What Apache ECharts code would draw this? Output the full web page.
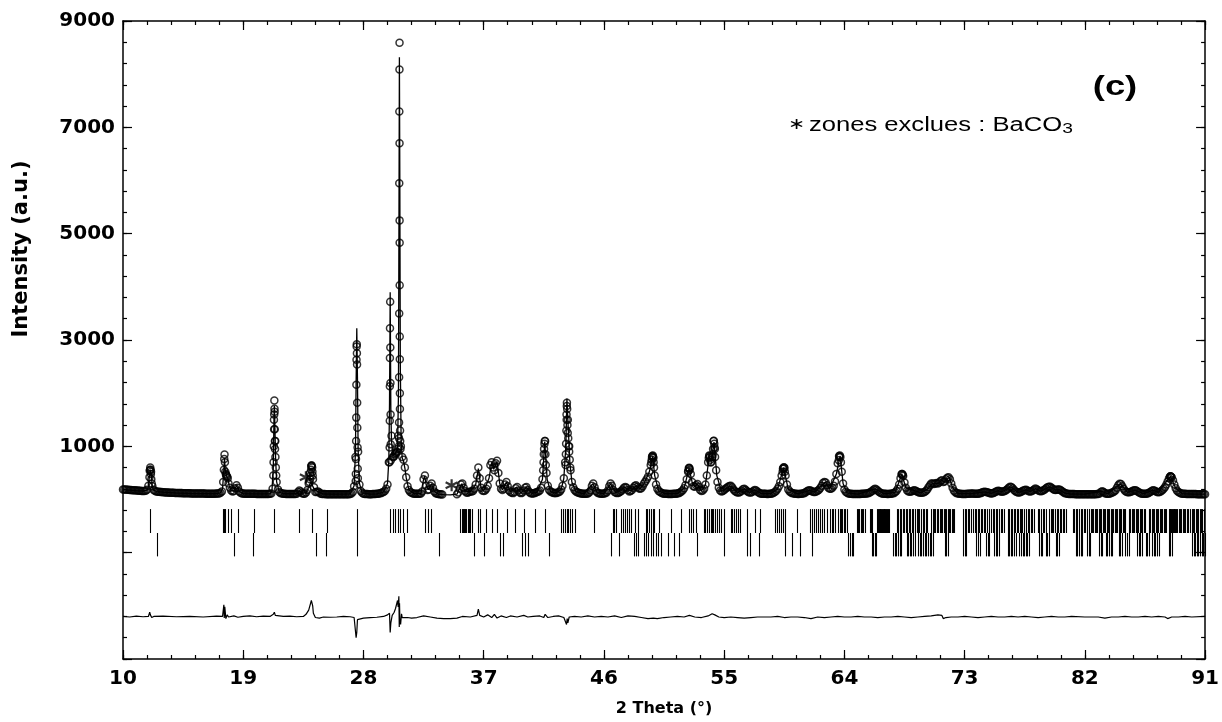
<!DOCTYPE html>
<html>
<head>
<meta charset="utf-8">
<title>Affinement Rietveld (c)</title>
<script src="https://cdn.jsdelivr.net/npm/echarts@6/dist/echarts.min.js"></script>
<style>
  html, body { margin: 0; padding: 0; background: #fff; }
  #chart { width: 1222px; height: 722px; }
</style>
</head>
<body>
<div id="chart"></div>
<script>
// Observed counts on a regular 2θ grid (10.0° to 91.0°, step 0.1°); null = excluded zone
const THETA_START = 10;
const THETA_STEP = 0.1;
const observedCounts = [
  190,188,186,184,182,180,178,176,174,172,
  170,168,166,164,162,160,158,165,185,260,
  540,520,250,180,160,152,148,145,142,140,
  138,136,134,132,130,128,127,126,125,124,
  123,122,121,120,120,119,118,118,117,116,
  116,115,115,114,114,113,113,112,112,112,
  111,111,110,110,110,110,109,109,109,110,
  112,113,115,125,150,330,845,480,430,300,
  220,170,150,160,210,270,220,150,125,115,
  112,110,109,108,108,107,107,106,106,106,
  105,105,105,104,104,104,104,103,103,103,
  108,115,200,1500,1100,330,190,140,120,112,
  108,106,105,104,104,103,103,103,102,102,
  110,140,170,150,120,110,110,130,180,300,
  500,640,450,230,140,140,150,130,110,105,
  103,102,101,100,100,100,100,100,100,100,
  100,100,100,100,100,100,100,100,100,101,
  105,115,140,250,800,2920,900,280,160,125,
  110,105,103,102,101,101,101,102,103,105,
  107,110,115,120,130,140,160,200,280,700,
  3720,1200,800,820,870,900,1200,8590,1000,800,
  750,600,420,250,180,140,125,115,110,108,
  108,108,110,115,150,380,450,260,180,190,
  260,300,220,150,120,108,103,100,98,96,
  null,null,null,null,null,null,null,null,null,null,
  100,130,200,280,300,220,160,130,125,140,
  150,150,160,200,280,450,600,400,220,170,
  160,170,200,260,400,650,700,600,550,680,
  730,500,300,200,180,200,280,330,250,170,
  140,125,120,140,210,235,170,130,120,130,
  170,220,235,180,140,120,115,115,120,130,
  140,150,170,220,380,850,1100,500,260,180,
  150,135,125,120,120,125,135,150,190,260,
  400,700,1600,1500,1000,550,330,230,180,150,
  135,125,118,113,110,108,108,110,115,130,
  170,260,300,230,160,130,118,112,110,110,
  112,118,130,170,250,300,260,180,140,125,
  120,125,140,160,190,220,235,220,180,150,
  160,180,220,255,266,240,210,200,210,250,
  300,340,380,430,520,650,800,780,450,280,
  200,160,140,125,115,110,108,106,105,105,
  105,105,106,108,110,115,120,130,150,175,
  210,270,380,520,590,480,330,250,240,270,
  290,240,180,160,170,200,280,450,700,820,
  700,800,1100,950,550,330,220,170,150,160,
  180,200,220,240,255,260,230,190,160,140,
  130,130,140,165,195,204,185,160,140,130,
  130,140,165,180,170,145,125,115,110,110,
  108,106,105,105,106,110,115,125,140,165,
  200,250,330,450,580,600,450,280,190,150,
  130,120,112,108,106,105,105,106,108,112,
  120,135,155,170,175,165,150,140,140,150,
  165,185,215,260,310,330,320,270,220,200,
  200,220,260,340,480,680,820,800,520,300,
  190,145,125,115,110,106,104,103,102,102,
  102,103,104,106,108,110,112,115,120,130,
  145,165,190,200,190,165,140,125,115,110,
  108,106,105,105,106,108,112,120,135,160,
  200,280,400,480,440,320,220,170,150,145,
  150,160,172,170,155,140,130,125,125,130,
  140,160,190,230,270,300,300,290,300,310,
  300,320,350,360,330,340,380,410,420,380,
  300,220,165,135,120,112,108,106,105,105,
  105,105,106,108,110,112,112,110,108,107,
  108,112,120,130,140,145,142,135,125,118,
  115,118,125,140,155,165,160,150,145,150,
  160,175,195,220,240,235,210,180,155,140,
  130,130,140,155,170,180,185,170,155,150,
  155,170,190,205,195,175,160,155,160,175,
  190,210,230,240,240,220,200,185,180,185,
  190,190,175,155,135,120,112,108,105,104,
  103,102,102,101,101,100,100,100,100,100,
  100,100,100,100,100,100,100,100,101,102,
  105,115,140,155,140,120,110,108,110,115,
  125,135,150,175,220,270,295,290,250,200,
  165,145,135,135,140,150,165,175,175,160,
  140,125,115,110,108,108,110,115,125,140,
  160,175,170,155,140,135,140,155,175,200,
  235,280,340,400,435,420,360,280,210,165,
  140,125,115,110,108,106,105,104,104,103,
  103,102,102,102,101,101,101,100,100,100,
  100
];

// Additional observed points measured on the flanks of the sharp reflections
const observedPeakPoints = [
  [11.98,420],[12.02,560],[12.04,600],[12.07,560],[12.09,480],[12.12,380],[12.15,300],
  [17.55,560],[17.58,760],[17.63,700],[17.66,520],[17.72,460],[17.76,440],[17.84,400],
  [21.25,450],[21.27,700],[21.29,1000],[21.31,1323],[21.32,1600],[21.33,1864],[21.34,1709],
  [21.35,1650],[21.36,1323],[21.37,1100],[21.38,950],[21.41,800],[21.44,600],[21.47,450],
  [23.95,330],[24.0,380],[24.05,450],[24.08,560],[24.1,620],[24.13,640],[24.16,600],[24.18,520],[24.22,380],
  [27.42,350],[27.43,480],[27.44,760],[27.45,1100],[27.46,1540],[27.47,2160],[27.48,2630],[27.49,2880],
  [27.51,2750],[27.52,2540],[27.53,1820],[27.54,1350],[27.56,980],[27.57,580],[27.58,400],
  [29.95,700],[29.96,980],[29.97,1480],[29.975,2130],[29.98,2660],[29.985,3220],
  [30.01,2860],[30.02,2190],[30.03,1600],[30.04,1040],[30.05,740],
  [30.25,800],[30.35,850],[30.45,880],[30.55,950],
  [30.65,1000],[30.66,1150],[30.665,1450],[30.67,2300],[30.675,3500],[30.68,5950],[30.685,7300],
  [30.695,8090],[30.7,6700],[30.705,5250],[30.708,4830],[30.71,4030],[30.715,3065],[30.72,2640],
  [30.725,2000],[30.73,1700],[30.74,1300],[30.75,1100],[30.77,950],
  [41.45,550],[41.48,700],[41.52,950],[41.55,1050],[41.57,1100],[41.62,850],[41.65,650],
  [43.13,650],[43.15,850],[43.17,1050],[43.19,1300],[43.21,1500],[43.22,1760],[43.23,1820],
  [43.25,1700],[43.27,1400],[43.29,1250],[43.33,1150],[43.36,1000],[43.4,900],[43.44,750],[43.48,600],
  [49.55,700],[49.58,750],[49.62,820],[49.66,826],[49.68,800],[49.72,700],[49.75,600],
  [52.32,540],[52.35,590],[52.38,596],[52.42,560],
  [53.85,780],[53.88,826],[53.92,800],[53.96,750],[54.02,700],[54.1,800],[54.14,850],[54.17,950],
  [54.23,1106],[54.26,1050],[54.28,980],[54.32,800],
  [59.38,520],[59.42,590],[59.46,608],[59.5,590],[59.54,520],
  [63.58,740],[63.62,800],[63.66,826],[63.74,700],
  [68.28,470],[68.33,480],[68.38,460],
  [88.38,430],[88.42,435],[88.46,425]
];

// Calculated profile
const calculatedProfile = [
  [10,185],[10.5,178],[11,168],[11.5,160],[11.8,175],[11.9,240],[12.0,500],[12.05,560],[12.1,480],
  [12.2,240],[12.3,175],[12.5,150],[13,137],[14,122],[15,115],[16,110],[17,112],[17.3,125],[17.45,200],
  [17.55,550],[17.6,780],[17.65,560],[17.75,440],[17.85,400],[17.95,260],[18.1,170],[18.3,160],[18.5,265],
  [18.7,150],[19,112],[20,105],[21,108],[21.15,160],[21.25,600],[21.3,1500],[21.33,1760],[21.36,1500],
  [21.42,800],[21.5,330],[21.7,140],[22,108],[23,108],[23.2,165],[23.4,118],[23.7,130],[23.9,230],
  [24.05,330],[24.15,340],[24.3,200],[24.6,145],[25,103],[26,100],[27,105],[27.3,260],[27.4,900],
  [27.45,2200],[27.5,3220],[27.55,2300],[27.6,950],[27.7,300],[27.9,125],[28.5,101],[29,107],[29.5,140],
  [29.8,300],[29.9,750],[29.95,1800],[30.0,3900],[30.05,1700],[30.1,1100],[30.2,820],[30.4,870],
  [30.55,950],[30.62,2000],[30.67,6500],[30.69,8320],[30.72,6200],[30.76,2500],[30.82,1100],[30.9,780],
  [31.0,720],[31.1,590],[31.2,410],[31.4,180],[31.8,110],[32.3,115],[32.5,380],[32.58,440],[32.7,270],
  [32.85,185],[33.1,295],[33.3,150],[33.6,103],[34.0,92],[34.5,86],[35.0,100],[35.35,295],[35.6,160],
  [36.0,150],[36.4,280],[36.6,580],[36.8,220],[37.0,160],[37.4,400],[37.6,700],[37.75,570],[38.0,720],
  [38.2,300],[38.4,180],[38.7,325],[39.0,140],[39.45,230],[39.8,120],[40.2,230],[40.6,115],[41.0,140],
  [41.4,380],[41.57,1090],[41.75,380],[42.0,150],[42.4,120],[42.8,190],[43.0,400],[43.15,1000],
  [43.23,1900],[43.3,1500],[43.45,700],[43.6,330],[43.9,150],[44.5,108],[45.17,295],[45.5,130],
  [46.0,112],[46.5,295],[46.9,125],[47.55,230],[48.0,160],[48.4,260],[48.7,200],[49.0,300],[49.4,520],
  [49.65,810],[49.8,450],[50.1,160],[50.6,108],[51.5,115],[52.0,210],[52.37,585],[52.6,330],[52.8,240],
  [53.0,290],[53.3,160],[53.6,280],[53.88,800],[54.05,720],[54.24,1080],[54.45,450],[54.8,150],
  [55.48,255],[56.0,130],[56.5,200],[56.9,130],[57.3,178],[57.8,110],[58.5,110],[59.0,200],[59.45,600],
  [59.8,190],[60.5,105],[61.4,172],[61.8,140],[62.56,325],[62.9,200],[63.4,480],[63.68,820],[63.9,300],
  [64.2,125],[65,102],[66.3,198],[67,108],[67.8,135],[68.3,475],[68.6,220],[69.2,170],[69.7,125],
  [70.2,190],[70.6,300],[71.0,300],[71.3,360],[71.5,335],[71.85,420],[72.1,220],[72.5,112],[73.5,112],
  [74.5,145],[75.0,115],[75.5,165],[75.8,145],[76.45,238],[77.0,130],[77.6,182],[77.9,150],[78.3,203],
  [78.7,155],[79.35,240],[79.8,180],[80.05,190],[80.5,120],[81,103],[82,100],[83.25,155],[83.7,108],
  [84.65,293],[85.2,135],[85.75,175],[86.4,108],[87.1,175],[87.5,135],[88.4,435],[88.8,210],[89.3,110],
  [90,103],[91,100]
];

// Difference (observed - calculated), plotted shifted below the reflection markers
const DIFF_OFFSET = -2200;
const differenceProfile = [
  [10,0],[10.5,-10],[11,5],[11.5,-5],[11.9,0],[12.0,80],[12.05,30],[12.15,-20],[12.3,0],[13,5],[14,-5],
  [15,0],[16,-10],[17,5],[17.45,0],[17.55,220],[17.58,-30],[17.62,180],[17.7,-40],[17.8,30],[17.9,-10],
  [18.3,10],[18.6,-15],[19,0],[19.5,10],[20,-5],[20.5,5],[21,0],[21.25,40],[21.33,80],[21.4,20],
  [21.5,-10],[22,0],[22.5,5],[23,-5],[23.5,0],[23.7,40],[23.9,120],[24.1,300],[24.2,200],[24.25,60],
  [24.4,-20],[24.7,-30],[25,-10],[25.5,-15],[26,-10],[26.5,0],[27,-5],[27.3,-20],[27.45,-400],
  [27.5,-300],[27.55,-60],[27.6,-40],[28,-30],[28.5,-20],[29,-15],[29.5,0],[29.8,30],[29.95,60],
  [30.0,-300],[30.05,-120],[30.15,20],[30.3,80],[30.4,150],[30.5,120],[30.55,300],[30.6,180],
  [30.65,380],[30.68,-200],[30.7,250],[30.73,-100],[30.78,-150],[30.85,50],[30.9,-20],[31.0,-40],
  [31.3,-20],[31.6,-30],[32,-20],[32.5,10],[32.6,-20],[33,-10],[33.5,-30],[34,-40],[34.5,-40],
  [35,-30],[35.4,0],[36,-10],[36.5,20],[36.6,140],[36.7,20],[37,-10],[37.3,30],[37.6,-20],[37.8,40],
  [38.0,-30],[38.3,10],[38.7,-20],[39,10],[39.5,-10],[40,20],[40.3,-10],[40.7,0],[41.2,10],[41.5,-20],
  [41.6,40],[41.8,-20],[42.2,0],[42.6,10],[43.0,-20],[43.2,-150],[43.25,-40],[43.3,-120],[43.4,-10],
  [43.8,0],[44.3,-10],[44.8,10],[45.3,-10],[45.8,0],[46.3,-10],[46.8,10],[47.3,-20],[47.8,10],
  [48.3,0],[48.8,-20],[49.3,-40],[49.7,-30],[50.0,-40],[50.5,-20],[51,-10],[51.5,0],[52,-10],
  [52.4,20],[52.8,-10],[53.3,-20],[53.8,10],[54.1,50],[54.3,30],[54.6,-10],[55,-20],[55.5,-10],
  [56,-20],[56.5,-30],[57,-20],[57.5,-10],[58,-10],[58.5,-10],[59,0],[59.5,-20],[60,-10],[60.5,-10],
  [61,-20],[61.5,-40],[62,-10],[62.5,-20],[63,-10],[63.5,0],[64,-10],[64.5,-10],[65,0],[65.5,-10],
  [66,-10],[66.5,-20],[67,-10],[67.5,-10],[68,0],[68.5,-10],[69,-20],[69.5,-10],[70,0],[70.5,10],
  [71,30],[71.3,20],[71.4,-40],[71.6,-20],[72,-10],[72.5,-10],[73,0],[73.5,-10],[74,-20],[74.5,-10],
  [75,0],[75.5,-10],[76,-10],[76.5,0],[77,-10],[77.5,0],[78,-10],[78.5,-20],[79,-10],[79.5,0],
  [80,-10],[80.5,-10],[81,0],[82,-10],[83,-10],[83.5,-30],[84,-10],[84.5,-10],[85,0],[85.5,-10],
  [86,-10],[86.5,0],[87,-10],[87.5,0],[88,-10],[88.2,-40],[88.5,-10],[89,-10],[89.5,0],[90,-10],[91,0]
];

// Bragg reflection positions (2θ) of the two refined phases
const phase1Reflections = [
  12.01,17.47,17.57,17.67,17.87,18.07,18.59,19.82,21.33,23.19,24.12,25.24,27.51,29.96,30.2,30.39,
  30.57,30.72,30.96,31.28,32.6,32.83,33.06,35.24,35.34,35.44,35.52,35.6,35.7,35.8,35.9,36.0,36.1,
  36.6,36.73,37.2,37.59,37.97,38.71,39.34,40.05,40.83,41.6,42.81,42.94,43.05,43.2,43.3,43.45,43.6,
  43.81,45.28,46.66,46.75,46.9,47.27,47.4,47.55,47.7,47.85,48.02,48.35,48.52,49.14,49.25,49.4,49.55,
  49.65,49.76,50.14,51.0,51.75,52.37,52.5,52.7,52.87,53.49,53.6,53.75,53.9,54.0,54.1,54.2,54.35,
  54.5,54.65,54.8,54.98,55.48,55.6,55.75,55.9,56.05,56.22,56.72,57.34,57.71,58.83,58.95,59.1,59.25,
  59.4,59.57,60.44,61.44,61.55,61.7,61.85,62.0,62.15,62.3,62.5,62.68,62.93,63.05,63.15,63.3,63.55,
  63.65,63.75,63.85,63.95,64.05,64.17,64.92,65.02,65.12,65.22,65.32,65.42,65.52,65.88,66.0,66.1,
  66.46,66.52,66.58,66.64,66.7,66.76,66.82,66.88,66.94,67.0,67.06,67.12,67.2,67.28,67.36,67.92,
  68.02,68.14,68.24,68.36,68.46,68.58,68.7,68.8,68.92,69.04,69.14,69.28,69.4,69.5,69.62,69.74,69.86,
  69.98,70.1,70.22,70.52,70.62,70.72,70.82,70.92,71.02,71.12,71.22,71.32,71.42,71.52,71.62,71.72,
  71.82,71.92,72.02,72.12,72.22,72.9,73.0,73.12,73.24,73.36,73.5,73.62,73.74,73.84,74.0,74.1,74.2,
  74.32,74.44,74.56,74.68,74.8,75.0,75.1,75.22,75.34,75.46,75.58,75.7,75.82,75.94,76.24,76.34,76.44,
  76.54,76.66,76.78,76.9,77.02,77.14,77.24,77.32,77.48,77.6,77.72,77.84,77.96,78.08,78.18,78.48,78.6,
  78.72,78.84,78.96,79.06,79.34,79.44,79.54,79.64,79.76,79.88,80.0,80.12,80.24,80.36,80.46,80.56,
  81.08,81.2,81.32,81.44,81.56,81.68,81.8,81.92,82.04,82.16,82.28,82.44,82.54,82.64,82.74,82.84,
  82.94,83.04,83.14,83.24,83.34,83.44,83.54,83.64,83.74,83.84,83.94,84.04,84.14,84.24,84.34,84.44,
  84.54,84.64,84.74,84.84,84.94,85.02,85.3,85.4,85.5,85.6,85.7,85.8,85.9,86.0,86.1,86.2,86.3,86.4,
  86.5,86.8,86.9,87.0,87.1,87.2,87.3,87.4,87.5,87.6,87.7,87.8,87.9,88.0,88.1,88.28,88.34,88.4,88.46,
  88.52,88.58,88.64,88.7,88.76,88.82,88.88,89.02,89.12,89.22,89.32,89.42,89.52,89.62,89.72,89.9,
  90.0,90.1,90.2,90.3,90.4,90.5,90.6,90.7,90.8,90.9
];
const phase2Reflections = [
  12.53,18.28,19.76,24.48,25.2,27.51,31.01,33.62,36.25,37.03,38.22,38.46,39.83,40.07,40.31,41.92,
  46.53,47.16,48.28,48.4,48.52,49.02,49.14,49.3,49.52,49.7,49.9,50.04,50.26,50.76,51.26,51.63,53.0,
  54.98,56.72,56.97,57.59,59.57,60.07,60.69,61.56,64.3,64.42,64.55,64.67,66.04,66.16,66.28,66.4,
  67.66,67.78,67.9,68.02,68.14,68.26,68.66,68.78,68.9,69.02,69.14,69.26,69.52,69.64,69.76,69.88,
  70.02,70.14,70.26,70.38,70.5,70.62,71.5,71.62,71.74,72.88,73.0,73.1,73.86,74.0,74.14,74.6,74.72,
  74.84,75.22,75.34,75.46,75.58,76.22,76.34,76.46,76.58,76.7,76.82,77.1,77.22,77.34,77.46,77.58,
  77.7,77.82,78.58,78.7,78.82,79.08,79.2,79.32,79.82,79.94,80.06,81.32,81.44,81.56,81.68,81.8,
  82.18,82.3,82.42,83.06,83.18,83.3,83.56,83.68,83.8,83.92,84.04,84.54,84.66,84.78,85.04,85.16,
  85.28,85.92,86.04,86.16,86.28,86.54,86.66,86.78,87.04,87.16,87.28,87.4,87.52,88.28,88.4,88.52,
  90.02,90.14,90.26,90.38,90.5,90.62,90.74,90.86,90.98
];

// Excluded BaCO3 zones (marked with an asterisk)
const excludedZoneMarks = [[23.69, 420], [34.6, 266]];

// Axis tick labels
const xTickLabels = [10, 19, 28, 37, 46, 55, 64, 73, 82, 91];
const yTickLabels = [1000, 3000, 5000, 7000, 9000];
const yMajorTicks = [-3000, -1000, 1000, 3000, 5000, 7000, 9000];

// Vertical extent of the two marker rows (intensity units)
const PHASE1_SPAN = [-180, -630];
const PHASE2_SPAN = [-630, -1070];

// ---- derived series data ----
const observedPoints = observedCounts
  .map((v, i) => (v == null ? null : [+(THETA_START + i * THETA_STEP).toFixed(2), v]))
  .filter(Boolean)
  .concat(observedPeakPoints);
const differenceLine = differenceProfile.map(([t, d]) => [t, d + DIFF_OFFSET]);
const markerRows = phase1Reflections.map(t => [t, PHASE1_SPAN[0], PHASE1_SPAN[1]])
  .concat(phase2Reflections.map(t => [t, PHASE2_SPAN[0], PHASE2_SPAN[1]]));

const xMinorTicks = [];
for (let k = 0; k <= 45; k++) xMinorTicks.push(+(10 + k * 1.8).toFixed(2));
const yMinorTicks = [];
for (let k = 0; k <= 30; k++) yMinorTicks.push(-3000 + k * 400);

const BLACK = '#000';
const SANS = '"Liberation Sans", Arial, Helvetica, sans-serif';
const labelFont = { color: BLACK, fontFamily: 'DejaVu Sans', fontWeight: 'bold', fontSize: 20 };

function frameAxis(kind, position, opts) {
  const isMajor = opts.major;
  return Object.assign({
    type: 'value',
    position: position,
    min: kind === 'x' ? 10 : -3000,
    max: kind === 'x' ? 91 : 9000,
    axisLine: { show: isMajor, onZero: false, lineStyle: { color: BLACK, width: 1.5 } },
    axisTick: {
      show: true, inside: true,
      length: isMajor ? 9 : 4,
      customValues: isMajor ? (kind === 'x' ? xTickLabels : yMajorTicks) : (kind === 'x' ? xMinorTicks : yMinorTicks),
      lineStyle: { color: BLACK, width: 1.2 }
    },
    axisLabel: { show: false },
    splitLine: { show: false },
    minorTick: { show: false },
    minorSplitLine: { show: false }
  }, opts.extra || {});
}

const chart = echarts.init(document.getElementById('chart'), null, { renderer: 'canvas' });

chart.setOption({
  animation: false,
  backgroundColor: '#fff',
  grid: { left: 123, right: 12, top: 21, bottom: 59, containLabel: false },
  xAxis: [
    frameAxis('x', 'bottom', { major: true, extra: {
      axisLabel: Object.assign({ show: true, margin: 10, customValues: xTickLabels,
        formatter: v => String(v) }, labelFont),
      name: '2 Theta (°)', nameLocation: 'middle', nameGap: 42,
      nameTextStyle: { color: BLACK, fontFamily: 'DejaVu Sans', fontWeight: 'bold', fontSize: 16 }
    } }),
    frameAxis('x', 'bottom', { major: false }),
    frameAxis('x', 'top', { major: true }),
    frameAxis('x', 'top', { major: false })
  ],
  yAxis: [
    frameAxis('y', 'left', { major: true, extra: {
      axisLabel: Object.assign({ show: true, margin: 8, customValues: yTickLabels,
        formatter: v => String(v) }, labelFont)
    } }),
    frameAxis('y', 'left', { major: false }),
    frameAxis('y', 'right', { major: true }),
    frameAxis('y', 'right', { major: false })
  ],
  series: [
    {
      name: 'Reflections',
      type: 'custom',
      xAxisIndex: 0, yAxisIndex: 0,
      z: 2,
      silent: true,
      data: markerRows,
      renderItem: function (params, api) {
        const t = api.value(0);
        const p1 = api.coord([t, api.value(1)]);
        const p2 = api.coord([t, api.value(2)]);
        const x = Math.round(p1[0]) + 0.5;
        return {
          type: 'line',
          shape: { x1: x, y1: p1[1], x2: x, y2: p2[1] },
          style: { stroke: BLACK, lineWidth: 1.1 }
        };
      }
    },
    {
      name: 'Difference',
      type: 'line',
      xAxisIndex: 0, yAxisIndex: 0,
      z: 3,
      silent: true,
      showSymbol: false,
      data: differenceLine,
      lineStyle: { color: BLACK, width: 1.2 }
    },
    {
      name: 'Observed',
      type: 'scatter',
      xAxisIndex: 0, yAxisIndex: 0,
      z: 4,
      silent: true,
      large: false,
      progressive: 0,
      symbol: 'circle',
      symbolSize: 7,
      data: observedPoints,
      itemStyle: { color: 'rgba(0,0,0,0)', borderColor: BLACK, borderWidth: 1.5 }
    },
    {
      name: 'Calculated',
      type: 'line',
      xAxisIndex: 0, yAxisIndex: 0,
      z: 5,
      silent: true,
      showSymbol: false,
      data: calculatedProfile,
      lineStyle: { color: BLACK, width: 1.3 }
    },
    {
      name: 'Excluded zones',
      type: 'scatter',
      xAxisIndex: 0, yAxisIndex: 0,
      z: 6,
      silent: true,
      symbol: 'path://M5,0L5,10M0.67,2.5L9.33,7.5M0.67,7.5L9.33,2.5',
      symbolSize: 12,
      data: excludedZoneMarks,
      itemStyle: { color: 'rgba(0,0,0,0)', borderColor: BLACK, borderWidth: 2.2 }
    }
  ],
  graphic: [
    {
      type: 'text',
      x: 22, y: 249,
      rotation: Math.PI / 2,
      style: {
        text: 'Intensity (a.u.)',
        fill: BLACK,
        font: 'bold 21px "DejaVu Sans"',
        align: 'center',
        verticalAlign: 'middle'
      }
    },
    {
      type: 'text',
      x: 1115, y: 87,
      scaleX: 1.3,
      style: {
        text: '(c)',
        fill: BLACK,
        font: 'bold 28px ' + SANS,
        align: 'center',
        verticalAlign: 'middle'
      }
    },
    {
      type: 'text',
      x: 788, y: 125,
      scaleX: 1.28,
      style: {
        text: '{s|∗} {a|zones exclues : BaCO}{b|3}',
        fill: BLACK,
        align: 'left',
        verticalAlign: 'middle',
        rich: {
          s: { fontFamily: SANS, fontSize: 16, lineHeight: 24, fill: BLACK },
          a: { fontFamily: SANS, fontSize: 20, lineHeight: 24, fill: BLACK },
          b: { fontFamily: SANS, fontSize: 15, lineHeight: 24, padding: [7, 0, 0, 0], fill: BLACK }
        }
      }
    }
  ]
});
</script>
</body>
</html>
